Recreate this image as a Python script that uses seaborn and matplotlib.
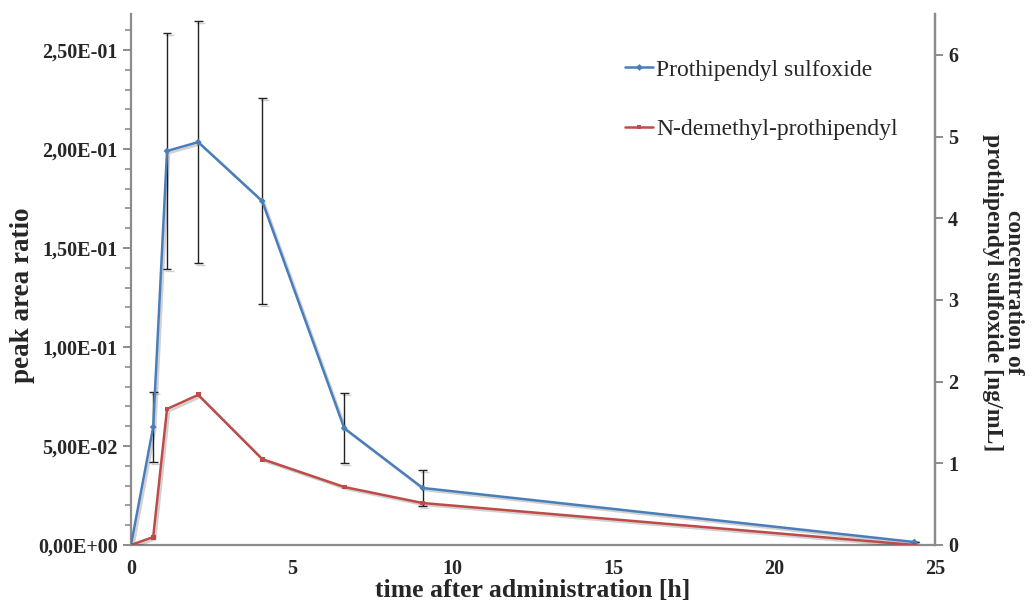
import numpy as np
import pandas as pd
import matplotlib
matplotlib.use("Agg")
import matplotlib.pyplot as plt
import matplotlib.patheffects as pe
from matplotlib.ticker import MultipleLocator, FuncFormatter
import seaborn as sns

# ---- data ----
time_h = [0.0, 0.69, 1.12, 2.09, 4.08, 6.63, 9.07, 24.36]
sulfoxide = [0.0, 0.0596, 0.1990, 0.2035, 0.1737, 0.0590, 0.0288, 0.0015]
sulfoxide_err = [0.0, 0.0177, 0.0595, 0.0612, 0.0520, 0.0177, 0.0091, 0.0]
demethyl = [0.0, 0.0040, 0.0687, 0.0758, 0.0434, 0.0293, 0.0212, 0.0]
series_names = ["Prothipendyl sulfoxide", "N-demethyl-prothipendyl"]
x_ticks = [0, 5, 10, 15, 20, 25]
right_ticks = [0, 1, 2, 3, 4, 5, 6]

sns.set_theme(style="white")
plt.rcParams["font.family"] = ["Liberation Serif", "DejaVu Serif"]

df = pd.DataFrame({
    "time": time_h * 2,
    "value": sulfoxide + demethyl,
    "series": [series_names[0]] * len(time_h) + [series_names[1]] * len(time_h),
})

blue = "#4A7EBB"
red = "#BE4B48"
spine_col = "#8C8C8C"

fig = plt.figure(figsize=(10.33, 6.04), dpi=100)
ax = fig.add_axes([131 / 1033, (604 - 545) / 604, 804 / 1033, 531 / 604])

shadow = [pe.SimpleLineShadow(offset=(1.5, -1.5), alpha=0.18, shadow_color="black"), pe.Normal()]

ax.errorbar(time_h, sulfoxide, yerr=sulfoxide_err, fmt="none", ecolor="#222222",
            elinewidth=1.0, capsize=3.2, capthick=1.0, zorder=1)

sns.lineplot(data=df, x="time", y="value", hue="series", style="series",
             palette={series_names[0]: blue, series_names[1]: red},
             markers={series_names[0]: "D", series_names[1]: "s"},
             dashes=False, markersize=3.5, markeredgewidth=0, linewidth=1.8,
             ax=ax, zorder=3, legend=True)
for ln in ax.get_lines():
    ln.set_path_effects(shadow)

ax.set_xlim(0, 25)
ax.set_ylim(0, 0.2682)
ax.set_xticks(x_ticks)
ax.yaxis.set_major_locator(MultipleLocator(0.05))
ax.yaxis.set_minor_locator(MultipleLocator(0.01))


def sci_fmt(v, pos):
    s = "%.2E" % v
    return s.replace(".", ",")


ax.yaxis.set_major_formatter(FuncFormatter(sci_fmt))

ax.spines["top"].set_visible(False)
for side in ["left", "bottom", "right"]:
    ax.spines[side].set_color(spine_col)
    ax.spines[side].set_linewidth(1.6)

ax.tick_params(axis="both", which="major", direction="out", length=6, width=1.4,
               color=spine_col, labelsize=14.5)
ax.tick_params(axis="y", which="minor", direction="out", length=4, width=1.2, color=spine_col, left=True)
ax.tick_params(axis="x", which="major", pad=4)
for lab in ax.get_xticklabels() + ax.get_yticklabels():
    lab.set_fontweight("bold")

ax.set_xlabel("time after administration [h]", fontsize=18.5, fontweight="bold", labelpad=0)
ax.set_ylabel("peak area ratio", fontsize=19.5, fontweight="bold")
ax.yaxis.set_label_coords(-0.12, 0.47)

# right axis
ax2 = ax.twinx()
ax2.set_ylim(0, 6.5)
ax2.set_yticks(right_ticks)
ax2.spines["top"].set_visible(False)
ax2.spines["left"].set_visible(False)
ax2.spines["bottom"].set_visible(False)
ax2.spines["right"].set_color(spine_col)
ax2.spines["right"].set_linewidth(1.6)
ax2.tick_params(axis="y", direction="out", length=6, width=1.4, color=spine_col, labelsize=14.5, right=True)
for lab in ax2.get_yticklabels():
    lab.set_fontweight("bold")
ax2.set_ylabel("concentration of\nprothipendyl sulfoxide [ng/mL]", rotation=270,
               fontsize=17, fontweight="bold", linespacing=1.0, va="center", ha="center")
ax2.yaxis.set_label_coords(1.084, 0.475)

# legend
handles, labels = ax.get_legend_handles_labels()
leg = ax.legend(handles, labels, loc="upper left", bbox_to_anchor=(0.615, 0.915),
                borderaxespad=0, borderpad=0,
                frameon=False, fontsize=17, handlelength=1.15, handletextpad=0.15,
                labelspacing=1.62)
for h in leg.legend_handles:
    h.set_path_effects([])

fig.savefig("out.png", dpi=100)
